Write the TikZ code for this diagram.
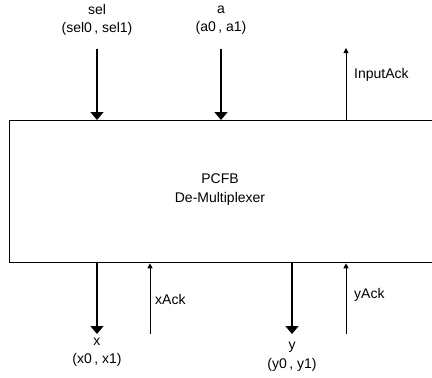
\documentclass[tikz,border=0pt]{standalone}
\usepackage{fontspec}
\setmainfont{Liberation Sans}
\usetikzlibrary{arrows.meta}
\begin{document}
\begin{tikzpicture}[x=1pt,y=-1pt,
  lbl/.style={font=\fontsize{14}{18.5}\selectfont, inner sep=0pt, align=center},
  data/.style={line width=1.6pt, -{Triangle[width=13pt,length=8pt]}},
  ack/.style={line width=0.9pt, -{Triangle[width=5pt,length=5pt]}}]
  \useasboundingbox (0,0) rectangle (432,378);
  % block body (runs on past the right edge)
  \node[draw, line width=1.3pt, minimum width=450pt, minimum height=142pt,
        anchor=north west, inner sep=0pt] (blk) at (9,120) {};
  \node[lbl] (title) at (220,189.5) {PCFB\\De-Multiplexer};

  % inputs
  \node[lbl] (sel) at (97,20) {sel\\(sel0\,, sel1)};
  \node[lbl] (a) at (221,20) {a\\(a0\,, a1)};
  \coordinate (selin) at (97,49);
  \coordinate (ain) at (221,49);
  \draw[data] (selin) -- (selin |- blk.north);
  \draw[data] (ain) -- (ain |- blk.north);

  % input acknowledge
  \coordinate (iack) at (346,48);
  \draw[ack] (iack |- blk.north) -- (iack);
  \node[lbl, anchor=west] (iacklbl) at (354,75) {InputAck};

  % outputs
  \coordinate (xout) at (97,334);
  \coordinate (yout) at (292,334);
  \draw[data] (xout |- blk.south) -- (xout);
  \draw[data] (yout |- blk.south) -- (yout);
  \node[lbl] (x) at (97,352) {x\\(x0\,, x1)};
  \node[lbl] (y) at (292,357) {y\\(y0\,, y1)};

  % output acknowledges
  \coordinate (xack) at (150,334);
  \coordinate (yack) at (346,334);
  \draw[ack] (xack) -- (xack |- blk.south);
  \draw[ack] (yack) -- (yack |- blk.south);
  \node[lbl, anchor=west] (xacklbl) at (155,299) {xAck};
  \node[lbl, anchor=west] (yacklbl) at (354,295) {yAck};
\end{tikzpicture}
\end{document}
